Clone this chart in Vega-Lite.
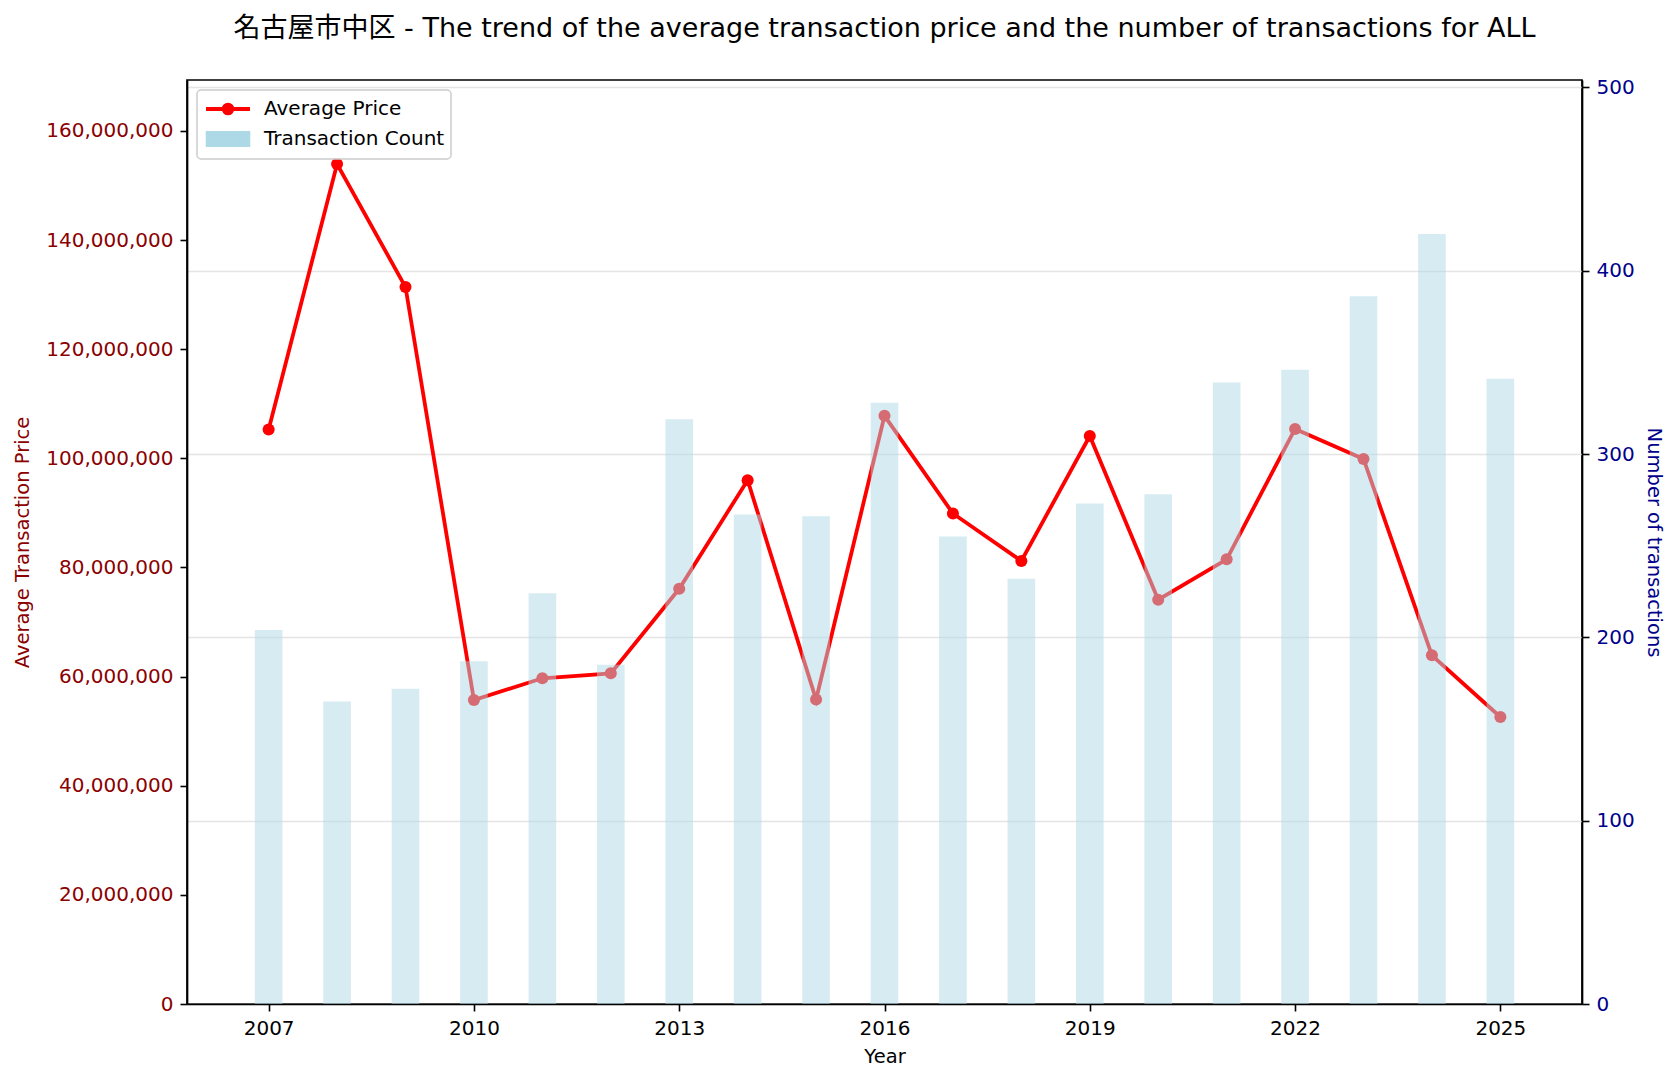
{
  "$schema": "https://vega.github.io/schema/vega-lite/v6.json",
  "autosize": {"type": "none"},
  "width": 1395,
  "height": 924,
  "padding": {"left": 187, "top": 80, "right": 97, "bottom": 78},
  "background": "white",
  "title": {
    "text": "名古屋市中区 - The trend of the average transaction price and the number of transactions for ALL",
    "fontSize": 27,
    "fontWeight": "normal",
    "color": "#000000",
    "anchor": "middle",
    "offset": 34
  },
  "config": {
    "font": "DejaVu Sans, Noto Sans CJK JP",
    "view": {"stroke": "#000000", "strokeWidth": 1.7},
    "axis": {
      "domainColor": "#000000",
      "domainWidth": 1.7,
      "tickColor": "#000000",
      "tickWidth": 1.6,
      "tickSize": 7,
      "labelPadding": 7,
      "labelFontSize": 20,
      "titleFontSize": 19.5,
      "titleFontWeight": "normal",
      "labelColor": "#000000",
      "titleColor": "#000000"
    },
    "legend": {
      "labelFontSize": 20,
      "labelColor": "#000000",
      "labelLimit": 400
    }
  },
  "data": {
    "values": [
      {"year": 2007, "price": 105300000, "count": 204},
      {"year": 2008, "price": 153950000, "count": 165},
      {"year": 2009, "price": 131400000, "count": 172},
      {"year": 2010, "price": 55700000, "count": 187},
      {"year": 2011, "price": 59700000, "count": 224},
      {"year": 2012, "price": 60600000, "count": 185},
      {"year": 2013, "price": 76100000, "count": 319},
      {"year": 2014, "price": 96000000, "count": 267},
      {"year": 2015, "price": 55800000, "count": 266},
      {"year": 2016, "price": 107800000, "count": 328},
      {"year": 2017, "price": 89900000, "count": 255},
      {"year": 2018, "price": 81200000, "count": 232},
      {"year": 2019, "price": 104100000, "count": 273},
      {"year": 2020, "price": 74100000, "count": 278},
      {"year": 2021, "price": 81500000, "count": 339},
      {"year": 2022, "price": 105400000, "count": 346},
      {"year": 2023, "price": 99900000, "count": 386},
      {"year": 2024, "price": 63900000, "count": 420},
      {"year": 2025, "price": 52600000, "count": 341}
    ]
  },
  "encoding": {
    "x": {
      "field": "year",
      "type": "quantitative",
      "scale": {"domain": [2005.88, 2026.12], "nice": false, "zero": false},
      "axis": {
        "title": "Year",
        "values": [2007, 2010, 2013, 2016, 2019, 2022, 2025],
        "format": "d",
        "grid": false,
        "titlePadding": 9
      }
    }
  },
  "layer": [
    {
      "mark": {
        "type": "line",
        "strokeWidth": 3.8,
        "point": {"filled": true, "size": 145}
      },
      "encoding": {
        "y": {
          "field": "price",
          "type": "quantitative",
          "scale": {"domain": [0, 169345000], "nice": false},
          "axis": {
            "title": "Average Transaction Price",
            "titleColor": "#8b0000",
            "labelColor": "#8b0000",
            "titlePadding": 13,
            "values": [0, 20000000, 40000000, 60000000, 80000000, 100000000, 120000000, 140000000, 160000000],
            "format": ",d",
            "grid": false,
            "orient": "left"
          }
        },
        "color": {
          "datum": "Average Price",
          "type": "nominal",
          "scale": {"domain": ["Average Price", "Transaction Count"], "range": ["#ff0000", "#add8e6"]},
          "legend": {
            "title": null,
            "orient": "top-left",
            "offset": 10,
            "padding": 6,
            "symbolSize": 484,
            "labelOffset": 23,
            "symbolOffset": 12,
            "rowPadding": 4,
            "strokeColor": "#cccccc",
            "fillColor": "rgba(255,255,255,0.8)",
            "cornerRadius": 4,
            "encode": {
              "legend": {"update": {"strokeWidth": {"value": 1.5}}},
              "symbols": {
                "update": {
                  "shape": {"signal": "datum.value === 'Average Price' ? 'M-2,0H2M-0.4,0A0.4,0.4,0,1,0,0.4,0A0.4,0.4,0,1,0,-0.4,0Z' : 'M-1.85,-0.55H1.85V0.55H-1.85Z'"},
                  "fill": {"signal": "datum.value === 'Average Price' ? '#ff0000' : '#d5ebf2'"},
                  "stroke": {"signal": "datum.value === 'Average Price' ? '#ff0000' : 'transparent'"},
                  "strokeWidth": {"value": 3.8},
                  "opacity": {"value": 1},
                  "fillOpacity": {"value": 1},
                  "strokeOpacity": {"value": 1},
                  "size": {"value": 484}
                }
              }
            }
          }
        }
      }
    },
    {
      "mark": {"type": "bar", "opacity": 0.5, "width": 27.6},
      "encoding": {
        "y": {
          "field": "count",
          "type": "quantitative",
          "scale": {"domain": [0, 504], "nice": false},
          "axis": {
            "title": "Number of transactions",
            "titleColor": "#00008b",
            "labelColor": "#00008b",
            "titlePadding": 9,
            "values": [0, 100, 200, 300, 400, 500],
            "grid": true,
            "gridColor": "#e4e4e4",
            "gridWidth": 1.5,
            "orient": "right"
          }
        },
        "color": {"datum": "Transaction Count", "type": "nominal"}
      }
    }
  ],
  "resolve": {"scale": {"y": "independent"}}
}
